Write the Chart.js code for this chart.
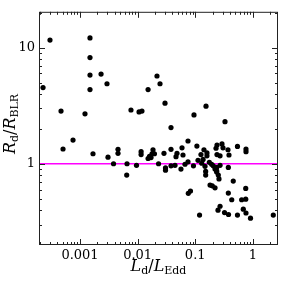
<!DOCTYPE html>
<html>
<head>
<meta charset="utf-8">
<script src="https://cdn.jsdelivr.net/npm/chart.js@4"></script>
<style>
  html, body { margin: 0; padding: 0; background: #fff; }
  #wrap { position: relative; width: 285px; height: 282px; }
  .axis-title { position: absolute; font-family: 'DejaVu Serif', serif; font-size: 16px; color: #000; white-space: nowrap; line-height: 20px; }
  .axis-title sub { font-size: 11px; font-style: normal; vertical-align: -3px; line-height: 0; }
  #xTitle { left: 39px; width: 239px; top: 256px; text-align: center; }
  #yTitle { left: -50px; top: 114px; width: 120px; text-align: center; transform: rotate(-90deg); }
</style>
</head>
<body>
<div id="wrap">
  <canvas id="chart" width="285" height="282"></canvas>
  <div class="axis-title" id="xTitle"><i>L</i><sub>d</sub>/<i>L</i><sub>Edd</sub></div>
  <div class="axis-title" id="yTitle"><i>R</i><sub>d</sub>/<i>R</i><sub>BLR</sub></div>
</div>
<script>
// Eddington ratio of each source
const ldLedd = [
  2.28e-4, 3.01e-4, 4.68e-4, 7.56e-4, 1.22e-3, 1.49e-3, 1.49e-3, 1.49e-3, 1.49e-3, 2.32e-3,
  2.94e-3, 7.67e-3, 1.06e-2, 1.19e-2, 1.52e-2, 2.17e-2, 2.45e-2, 2.99e-2, 3.80e-2, 9.53e-2,
  0.154, 0.329, 7.50e-2,
  5.07e-4, 1.68e-3, 3.06e-3, 4.57e-3, 4.57e-3, 1.15e-2, 1.15e-2, 1.85e-2, 1.78e-2, 1.96e-2,
  1.61e-2, 1.71e-2, 1.52e-2, 2.87e-2, 3.80e-2, 4.83e-2, 4.64e-2, 5.90e-2, 6.14e-2, 0.107,
  0.126, 0.142, 0.160, 0.160, 0.137, 0.239, 0.292, 0.230, 0.304, 0.371,
  0.239, 0.270, 0.386, 0.542, 0.762, 0.762,
  3.82e-3, 6.55e-3, 9.57e-3, 6.47e-3, 2.31e-2, 3.05e-2, 3.05e-2, 3.80e-2, 4.46e-2, 5.66e-2,
  6.65e-2, 7.50e-2, 9.33e-2, 0.112, 0.130, 0.148, 0.176, 0.193, 0.206, 0.221,
  0.236, 0.236, 0.270, 0.376, 0.152, 0.152, 0.252, 0.259, 0.236, 0.458,
  0.181, 0.198, 0.221, 8.28e-2, 7.59e-2, 0.376, 0.754, 0.431, 0.641, 0.754,
  0.270, 0.249, 0.323, 0.379, 0.542, 0.684, 0.762, 0.912, 0.119, 2.27
];
// disc size over BLR size
const rdRblr = [
  4.52, 11.6, 2.84, 1.60, 2.69, 12.1, 8.20, 5.80, 4.35, 5.91,
  4.88, 2.90, 2.79, 2.84, 4.35, 5.69, 4.88, 3.32, 2.05, 2.63,
  3.13, 2.30, 1.57,
  1.34, 1.22, 1.14, 1.33, 1.23, 1.27, 1.20, 1.32, 1.22, 1.22,
  1.16, 1.13, 1.11, 1.23, 1.33, 1.23, 1.15, 1.37, 1.19, 1.42,
  1.20, 1.32, 1.24, 1.17, 1.09, 1.45, 1.48, 1.36, 1.37, 1.32,
  1.20, 1.17, 1.19, 1.41, 1.34, 1.27,
  1.00, 1.00, 0.97, 0.80, 1.00, 0.92, 0.88, 0.96, 0.97, 0.90,
  0.99, 1.04, 0.96, 1.07, 1.01, 0.95, 1.03, 0.99, 0.96, 0.90,
  0.93, 0.87, 0.97, 0.93, 0.86, 0.80, 0.80, 0.74, 0.85, 0.71,
  0.655, 0.646, 0.621, 0.583, 0.557, 0.559, 0.613, 0.490, 0.490, 0.496,
  0.431, 0.399, 0.380, 0.366, 0.362, 0.407, 0.377, 0.340, 0.362, 0.362
];
const xTickValues = [0.001, 0.01, 0.1, 1];
const xTickLabels = ['0.001', '0.01', '0.1', '1'];
const yTickValues = [1, 10];
const yTickLabels = ['1', '10'];
const xRange = [1.94e-4, 2.74];
const yRange = [0.2, 20.3];
const unityLevel = 1;

const points = ldLedd.map((x, i) => ({ x: x, y: rdRblr[i] }));

// m * 10^d positions inside the range, m === 1 is a major tick
function logTicks(min, max) {
  const out = [];
  for (let d = Math.floor(Math.log10(min)); d <= Math.ceil(Math.log10(max)); d++) {
    for (let m = 1; m <= 9; m++) {
      const v = m * Math.pow(10, d);
      if (v > min && v < max) out.push({ v: v, major: m === 1 });
    }
  }
  return out;
}

const frameTicks = {
  id: 'frameTicks',
  afterDraw(chart) {
    const { ctx, chartArea: a, scales: { x, y } } = chart;
    ctx.save();
    ctx.strokeStyle = '#222';
    ctx.lineWidth = 1;
    ctx.strokeRect(a.left + 0.5, a.top + 0.5, a.right - a.left - 1, a.bottom - a.top - 1);
    ctx.beginPath();
    logTicks(xRange[0], xRange[1]).forEach(t => {
      const px = Math.round(x.getPixelForValue(t.v)) + 0.5;
      const len = t.major ? 6 : 3;
      ctx.moveTo(px, a.bottom); ctx.lineTo(px, a.bottom - len);
      ctx.moveTo(px, a.top); ctx.lineTo(px, a.top + len);
    });
    logTicks(yRange[0], yRange[1]).forEach(t => {
      const py = Math.round(y.getPixelForValue(t.v)) + 0.5;
      const len = t.major ? 6 : 3;
      ctx.moveTo(a.left, py); ctx.lineTo(a.left + len, py);
      ctx.moveTo(a.right, py); ctx.lineTo(a.right - len, py);
    });
    ctx.stroke();
    ctx.restore();
  }
};

const tickFont = { family: "'DejaVu Serif', serif", size: 13 };

new Chart(document.getElementById('chart'), {
  type: 'scatter',
  data: {
    datasets: [
      {
        data: points,
        backgroundColor: '#000',
        borderWidth: 0,
        pointRadius: 2.6
      },
      {
        type: 'line',
        data: [{ x: xRange[0], y: unityLevel }, { x: xRange[1], y: unityLevel }],
        borderColor: '#ff00ff',
        borderWidth: 1.5,
        pointRadius: 0
      }
    ]
  },
  options: {
    responsive: false,
    devicePixelRatio: 1,
    animation: false,
    layout: { padding: { top: 5, right: 7, left: 0, bottom: 0 } },
    plugins: { legend: { display: false }, tooltip: { enabled: false } },
    scales: {
      x: {
        type: 'logarithmic',
        min: xRange[0],
        max: xRange[1],
        afterBuildTicks: s => { s.ticks = xTickValues.map(v => ({ value: v })); },
        afterFit: s => { s.height = 37; },
        ticks: {
          callback: v => { const i = xTickValues.indexOf(v); return i >= 0 ? xTickLabels[i] : ''; },
          font: tickFont, color: '#000', padding: 3, maxRotation: 0, autoSkip: false
        },
        grid: { display: false, drawTicks: false },
        border: { display: false }
      },
      y: {
        type: 'logarithmic',
        min: yRange[0],
        max: yRange[1],
        afterBuildTicks: s => { s.ticks = yTickValues.map(v => ({ value: v })); },
        afterFit: s => { s.width = 39; },
        ticks: {
          callback: v => { const i = yTickValues.indexOf(v); return i >= 0 ? yTickLabels[i] : ''; },
          font: tickFont, color: '#000', padding: 4, autoSkip: false
        },
        grid: { display: false, drawTicks: false },
        border: { display: false }
      }
    }
  },
  plugins: [frameTicks]
});
</script>
</body>
</html>
